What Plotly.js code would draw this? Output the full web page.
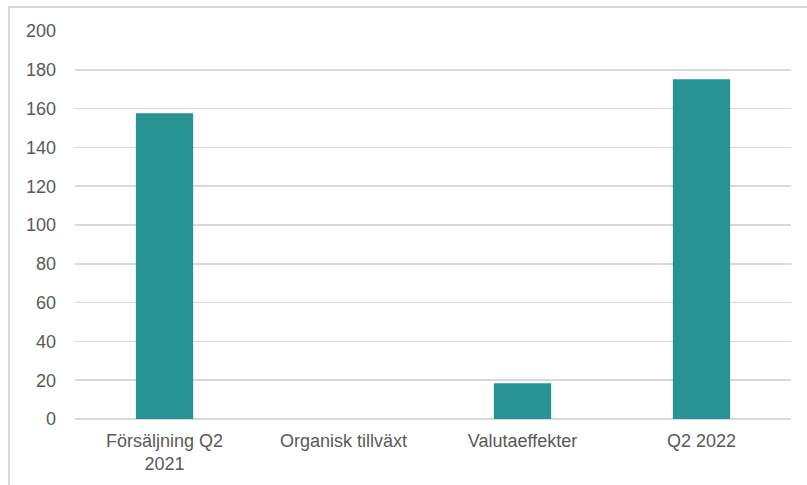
<!DOCTYPE html>
<html>
<head>
<meta charset="utf-8">
<script src="https://cdn.plot.ly/plotly-3.0.1.min.js"></script>
<style>
  html, body { margin: 0; padding: 0; background: #fff; }
  #wrap { position: relative; width: 807px; height: 485px; overflow: hidden; }
  #frame { position: absolute; left: 8px; top: 6px; width: 820px; height: 500px;
           border-top: 2px solid #d9d9d9; border-left: 2px solid #d9d9d9; box-sizing: border-box; pointer-events: none; }
  #chart { position: absolute; left: 0; top: 0; width: 807px; height: 485px; }
</style>
</head>
<body>
<div id="wrap">
  <div id="chart"></div>
  <div id="frame"></div>
</div>
<script>
const categories = ["Försäljning Q2<br>2021", "Organisk tillväxt", "Valutaeffekter", "Q2 2022"];
const values = [157.6, 0, 18.4, 175.1];
const yTicks = [0, 20, 40, 60, 80, 100, 120, 140, 160, 180, 200];

const trace = {
  type: "bar",
  x: categories,
  y: values,
  marker: { color: "#289192", line: { width: 0 } },
  hoverinfo: "x+y"
};

const FONT = "Liberation Sans, Arial, sans-serif";

const layout = {
  width: 807,
  height: 485,
  paper_bgcolor: "rgba(0,0,0,0)",
  plot_bgcolor: "rgba(0,0,0,0)",
  margin: { l: 75, r: 16, t: 31, b: 66, pad: 0 },
  bargap: 0.68,
  showlegend: false,
  font: { family: FONT, size: 18, color: "#595959" },
  xaxis: {
    type: "category",
    showgrid: false,
    showline: false,
    zeroline: false,
    ticks: "",
    ticklabelstandoff: 9,
    tickfont: { family: FONT, size: 18, color: "#595959" }
  },
  yaxis: {
    range: [0, 200],
    tickvals: yTicks,
    ticktext: yTicks.map(String),
    showgrid: true,
    gridcolor: "#d9d9d9",
    gridwidth: 1.5,
    zeroline: true,
    zerolinecolor: "#d9d9d9",
    zerolinewidth: 1.5,
    showline: false,
    ticks: "",
    ticklabelstandoff: 18,
    tickfont: { family: FONT, size: 18, color: "#595959" }
  }
};

Plotly.newPlot("chart", [trace], layout, { displayModeBar: false, staticPlot: true });
</script>
</body>
</html>
